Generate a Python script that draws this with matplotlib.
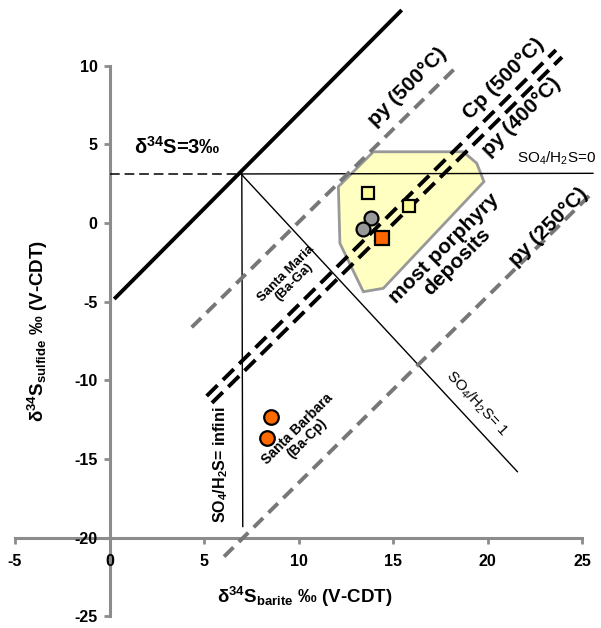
import matplotlib
matplotlib.use("Agg")
import matplotlib.pyplot as plt
from matplotlib.patches import Polygon

plt.rcParams['font.family'] = ['Liberation Sans', 'DejaVu Sans']
plt.rcParams['mathtext.fontset'] = 'custom'
plt.rcParams['mathtext.rm'] = 'Liberation Sans'
plt.rcParams['mathtext.bf'] = 'Liberation Sans:bold'
plt.rcParams['mathtext.it'] = 'Liberation Sans:italic'
plt.rcParams['axes.unicode_minus'] = False
plt.rcParams['lines.scale_dashes'] = False

# ---- data ----
x_ticks = [-5, 0, 5, 10, 15, 20, 25]
y_ticks = [-25, -20, -15, -10, -5, 0, 5, 10]

# reference lines (endpoints in data units)
delta3_x = [0.25, 15.46]
delta3_y = [-4.83, 13.54]
h_dash_x = [0.0, 6.96]
h_dash_y = [3.1, 3.1]
so4_0_x = [6.96, 25.58]
so4_0_y = [3.12, 3.16]
so4_inf_x = [7.0, 7.05]
so4_inf_y = [3.12, -19.3]
so4_1_x = [6.96, 21.58]
so4_1_y = [3.12, -15.81]
py500_x = [4.35, 18.37]
py500_y = [-6.63, 9.94]
py250_x = [6.06, 25.6]
py250_y = [-21.21, 1.99]
cp500_x = [5.14, 23.62]
cp500_y = [-11.0, 11.0]
py400_x = [5.42, 23.94]
py400_y = [-11.44, 10.55]

# field of most porphyry deposits
field_x = [13.96, 18.72, 19.43, 19.81, 14.49, 13.43, 12.19, 12.11]
field_y = [4.53, 4.53, 3.80, 2.63, -4.15, -4.37, -1.29, 2.31]

# samples
yellow_sq_x = [13.69, 15.85]
yellow_sq_y = [1.89, 1.08]
orange_sq_x = [14.40]
orange_sq_y = [-0.97]
gray_circ_x = [13.82, 13.40]
gray_circ_y = [0.30, -0.38]
orange_circ_x = [8.53, 8.32]
orange_circ_y = [-12.31, -13.65]

# ---- figure ----
fig = plt.figure(figsize=(6.01, 6.28), dpi=100)
ax = fig.add_axes([0, 0, 1, 1])
ax.set_xlim(-5.794, 26.005)
ax.set_ylim(-25.75, 14.18)

axis_col = '#8c8c8c'
for s in ['top', 'right']:
    ax.spines[s].set_visible(False)
ax.spines['left'].set_position(('data', 0))
ax.spines['left'].set_bounds(-25, 10)
ax.spines['bottom'].set_position(('data', -20))
ax.spines['bottom'].set_bounds(-5, 25)
for s in ['left', 'bottom']:
    ax.spines[s].set_color(axis_col)
    ax.spines[s].set_linewidth(2.2)
    ax.spines[s].set_zorder(1)

ax.set_xticks(x_ticks)
ax.set_yticks(y_ticks)
ax.set_xticklabels([str(v) for v in x_ticks])
ax.set_yticklabels([str(v) for v in y_ticks])
ax.tick_params(axis='both', direction='out', length=4.5, width=2,
               color=axis_col, labelsize=11.5)
ax.tick_params(axis='x', pad=7)
ax.tick_params(axis='y', pad=4)
for lab in ax.get_xticklabels() + ax.get_yticklabels():
    lab.set_fontweight('bold')

# field polygon
ax.add_patch(Polygon(list(zip(field_x, field_y)), closed=True,
                     facecolor='#FFFFC2', edgecolor='#999999', lw=2, zorder=2))

# lines
ax.plot(delta3_x, delta3_y, color='black', lw=2.8, zorder=3, solid_capstyle='butt')
ax.plot(h_dash_x, h_dash_y, color='black', lw=1.1, dashes=(7, 3.5), zorder=3)
ax.plot(so4_0_x, so4_0_y, color='black', lw=1.0, zorder=3)
ax.plot(so4_inf_x, so4_inf_y, color='black', lw=1.0, zorder=3)
ax.plot(so4_1_x, so4_1_y, color='black', lw=1.0, zorder=3)
ax.plot(py500_x, py500_y, color='#777777', lw=2.8, dashes=(9.5, 5.5), zorder=3)
ax.plot(py250_x, py250_y, color='#777777', lw=2.8, dashes=(9.5, 5.5), zorder=3)
ax.plot(cp500_x, cp500_y, color='black', lw=2.8, dashes=(11, 5.5), zorder=3)
ax.plot(py400_x, py400_y, color='black', lw=2.8, dashes=(11, 5.5), zorder=3)

# samples
ax.plot(yellow_sq_x, yellow_sq_y, 's', ms=9, mfc='#FFFF99', mec='black', mew=1.6, zorder=5)
ax.plot(orange_sq_x, orange_sq_y, 's', ms=9.5, mfc='#FF6600', mec='black', mew=1.6, zorder=5)
ax.plot(gray_circ_x, gray_circ_y, 'o', ms=10, mfc='#999999', mec='black', mew=1.6, zorder=5)
ax.plot(orange_circ_x, orange_circ_y, 'o', ms=10.5, mfc='#FF6A00', mec='black', mew=1.6, zorder=5)

# annotations
ax.text(3.6, 4.83, r'δ$^{\mathbf{34}}$S=3‰', fontsize=14.5, fontweight='bold',
        ha='center', va='center')
ax.text(23.67, 4.13, r'SO$_4$/H$_2$S=0', fontsize=11, ha='center', va='center')
ax.text(15.75, 8.65, 'py (500°C)', fontsize=15, fontweight='bold', rotation=45,
        ha='center', va='center', rotation_mode='anchor')
ax.text(20.84, 9.15, 'Cp (500°C)', fontsize=15, fontweight='bold', rotation=45,
        ha='center', va='center', rotation_mode='anchor')
ax.text(21.8, 6.76, 'py (400°C)', fontsize=15, fontweight='bold', rotation=45,
        ha='center', va='center', rotation_mode='anchor')
ax.text(18.05, -2.05, 'most porphyry\ndeposits', fontsize=15, fontweight='bold',
        rotation=45, ha='center', va='center', rotation_mode='anchor',
        multialignment='center', linespacing=1.0)
ax.text(23.22, -0.23, 'py (250°C)', fontsize=15, fontweight='bold', rotation=45,
        ha='center', va='center', rotation_mode='anchor')
ax.text(19.43, -11.48, r'SO$_4$/H$_2$S= 1', fontsize=11, rotation=-47,
        ha='center', va='center', rotation_mode='anchor')
ax.text(9.55, -3.5, 'Santa Maria\n(Ba-Ga)', fontsize=9.5, fontweight='bold',
        rotation=45, ha='center', va='center', rotation_mode='anchor',
        multialignment='center', linespacing=1.0)
ax.text(10.19, -13.4, 'Santa Barbara\n(Ba-Cp)', fontsize=10, fontweight='bold',
        rotation=45, ha='center', va='center', rotation_mode='anchor',
        multialignment='center', linespacing=1.0)
ax.text(5.87, -15.39, r'SO$_\mathbf{4}$/H$_\mathbf{2}$S= infini', fontsize=11.5,
        fontweight='bold', rotation=90, ha='center', va='center')

# axis titles
ax.text(-3.78, -6.87, r'δ$^{\mathbf{34}}$S$_{\mathbf{sulfide}}$ ‰ (V-CDT)',
        fontsize=13.5, fontweight='bold', rotation=90, ha='center', va='center')
ax.text(10.34, -23.76, r'δ$^{\mathbf{34}}$S$_{\mathbf{barite}}$ ‰ (V-CDT)',
        fontsize=13.5, fontweight='bold', ha='center', va='center')

fig.savefig('out.png', dpi=100)
